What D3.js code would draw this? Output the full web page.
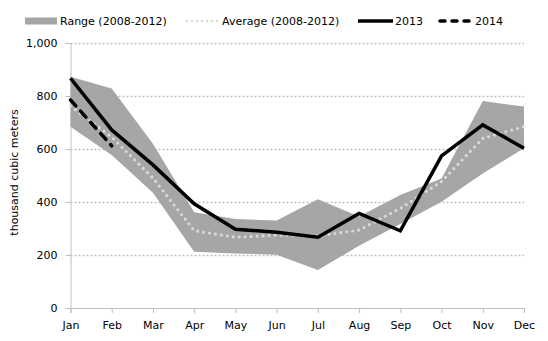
<!DOCTYPE html>
<html>
<head>
<meta charset="utf-8">
<script src="https://cdn.jsdelivr.net/npm/d3@7"></script>
<style>
  html, body { margin: 0; padding: 0; background: #fff; }
  svg { display: block; }
  text { font-family: "DejaVu Sans", Verdana, sans-serif; font-size: 11px; fill: #000; }
</style>
</head>
<body>
<svg id="chart" width="548" height="341"></svg>
<script>
// Monthly volumes, thousand cubic meters
const months = ["Jan","Feb","Mar","Apr","May","Jun","Jul","Aug","Sep","Oct","Nov","Dec"];
const rangeLow  = [684, 577, 435, 212, 206, 201, 143, 235, 317, 401, 508, 603];
const rangeHigh = [873, 828, 620, 361, 336, 330, 410, 345, 426, 489, 781, 760];
const average   = [762, 645, 490, 292, 267, 275, 272, 294, 376, 477, 640, 684];
const y2013     = [867, 672, 540, 393, 297, 286, 267, 357, 291, 574, 691, 603];
const y2014     = [785, 612];
const yTicks    = [0, 200, 400, 600, 800, 1000];

const svg = d3.select("#chart");
const margin = { left: 70.5, right: 24, top: 43, bottom: 33 };
const W = 548, H = 341;

const x = d3.scalePoint().domain(months).range([margin.left, W - margin.right]);
const y = d3.scaleLinear().domain([0, 1000]).range([H - margin.bottom, margin.top]);

// Gridlines
svg.append("g")
  .selectAll("line")
  .data(yTicks.filter(d => d > 0))
  .join("line")
  .attr("x1", margin.left).attr("x2", W - margin.right)
  .attr("y1", d => Math.round(y(d)) + 0.5).attr("y2", d => Math.round(y(d)) + 0.5)
  .attr("stroke", "#bfbfbf").attr("stroke-width", 1.5)
  .attr("stroke-dasharray", "2,2");

// Y axis
const yAxis = svg.append("g")
  .attr("transform", `translate(${margin.left},0)`)
  .call(d3.axisLeft(y).tickValues(yTicks).tickFormat(d3.format(",")).tickSize(5).tickPadding(8));
yAxis.select(".domain").attr("stroke", "#bfbfbf");
yAxis.selectAll(".tick line").attr("stroke", "#bfbfbf");
yAxis.selectAll("text").attr("fill", "#000").style("font-size", "11px");

// X axis
const xAxis = svg.append("g")
  .attr("transform", `translate(0,${y(0)})`)
  .call(d3.axisBottom(x).tickSize(5).tickPadding(8));
xAxis.select(".domain").attr("stroke", "#bfbfbf");
xAxis.selectAll(".tick line").attr("stroke", "#bfbfbf");
xAxis.selectAll("text").attr("fill", "#000").style("font-size", "11px");

// Range band
const band = d3.area()
  .x((d, i) => x(months[i]))
  .y0((d, i) => y(rangeLow[i]))
  .y1((d, i) => y(rangeHigh[i]));
svg.append("path").datum(months).attr("d", band).attr("fill", "#a6a6a6");

const line = d3.line().x((d, i) => x(months[i])).y(d => y(d));

// Average
svg.append("path").datum(average).attr("d", line)
  .attr("fill", "none").attr("stroke", "#d9d9d9").attr("stroke-width", 3.2)
  .attr("stroke-linecap", "round").attr("stroke-dasharray", "0,6");

// 2014
svg.append("path").datum(y2014).attr("d", line)
  .attr("fill", "none").attr("stroke", "#000").attr("stroke-width", 3.5)
  .attr("stroke-linecap", "round").attr("stroke-dasharray", "8,7");

// 2013
svg.append("path").datum(y2013).attr("d", line)
  .attr("fill", "none").attr("stroke", "#000").attr("stroke-width", 3.5)
  .attr("stroke-linejoin", "miter");

// Y axis title
svg.append("text")
  .attr("transform", `translate(18,${(y(0) + y(1000)) / 2 - 3}) rotate(-90)`)
  .attr("text-anchor", "middle")
  .text("thousand cubic meters");

// Legend
const legend = svg.append("g");
const ly = 21;
legend.append("rect").attr("x", 25).attr("y", ly - 3.5).attr("width", 32).attr("height", 7).attr("fill", "#a6a6a6");
legend.append("text").attr("x", 60).attr("y", ly + 4).text("Range (2008-2012)");
legend.append("line").attr("x1", 187).attr("x2", 218).attr("y1", ly).attr("y2", ly)
  .attr("stroke", "#d9d9d9").attr("stroke-width", 2.5).attr("stroke-linecap", "round").attr("stroke-dasharray", "0,5");
legend.append("text").attr("x", 222).attr("y", ly + 4).text("Average (2008-2012)");
legend.append("line").attr("x1", 358).attr("x2", 393).attr("y1", ly).attr("y2", ly)
  .attr("stroke", "#000").attr("stroke-width", 3.5);
legend.append("text").attr("x", 395).attr("y", ly + 4).text("2013");
legend.append("line").attr("x1", 440).attr("x2", 472).attr("y1", ly).attr("y2", ly)
  .attr("stroke", "#000").attr("stroke-width", 3.5).attr("stroke-linecap", "round").attr("stroke-dasharray", "5,7");
legend.append("text").attr("x", 475).attr("y", ly + 4).text("2014");
</script>
</body>
</html>
